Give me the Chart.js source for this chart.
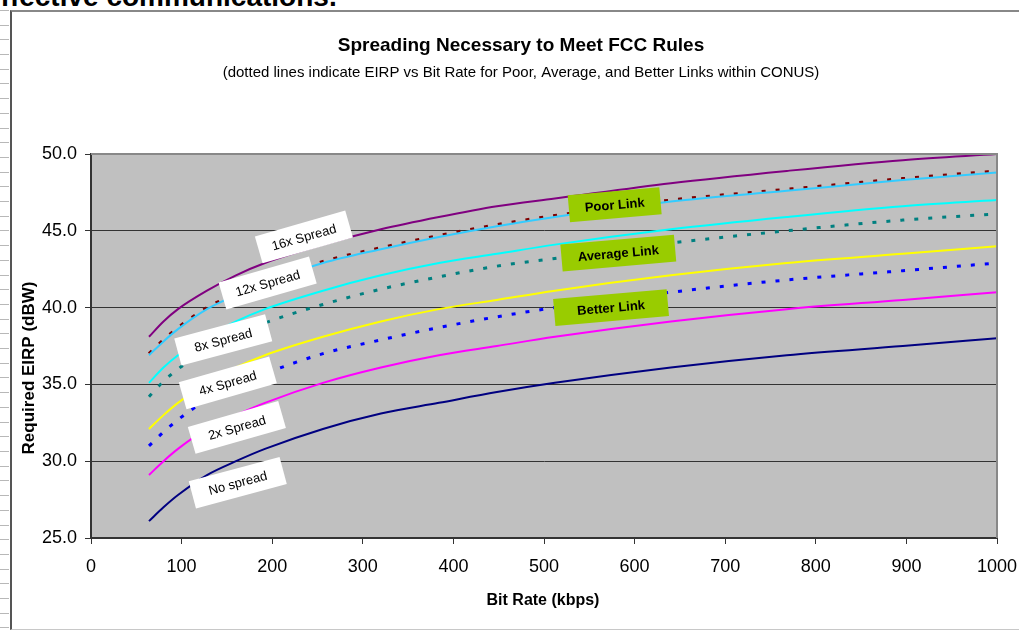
<!DOCTYPE html>
<html>
<head>
<meta charset="utf-8">
<title>Spreading Necessary to Meet FCC Rules</title>
<script src="https://cdn.jsdelivr.net/npm/chart.js@4.4.1/dist/chart.umd.min.js"></script>
<style>
  html, body { margin: 0; padding: 0; background: #fff; overflow: hidden; }
  #page { position: relative; width: 1019px; height: 631px; overflow: hidden; }
  #ruler {
    position: absolute; left: 0; top: 0; width: 9px; height: 631px;
    background: repeating-linear-gradient(to bottom, transparent 0, transparent 10px, #b8b8b8 10px, #b8b8b8 11px, transparent 11px, transparent 14.7px);
  }
  #frame {
    position: absolute; left: 10px; top: 10px; width: 1020px; height: 617px;
    border-left: 2px solid #555; border-top: 2px solid #888; border-bottom: 1px solid #c8c8c8;
  }
  #heading {
    position: absolute; left: -15px; top: -19px; line-height: 28px;
    font: bold 28px "Liberation Sans", Arial, sans-serif; white-space: nowrap; color: #000;
  }
  #chart { position: absolute; left: 0; top: 0; }
</style>
</head>
<body>
<div id="page">
  <div id="ruler"></div>
  <div id="frame"></div>
  <div id="heading">effective communications.</div>
  <canvas id="chart" width="1019" height="631"></canvas>
</div>
<script>
// Bit rates (kbps) sampled along the curves
const BIT_RATES = [64, 80, 96, 128, 160, 192, 256, 320, 384, 448, 512, 640, 768, 896, 1000];

// Required EIRP (dBW)
const SPREAD_16X = [38.1, 39.1, 39.9, 41.1, 42.1, 42.9, 44.1, 45.1, 45.9, 46.6, 47.1, 48.1, 48.9, 49.6, 50.0];
const POOR_LINK  = [37.0, 37.9, 38.7, 40.0, 40.9, 41.7, 43.0, 43.9, 44.7, 45.4, 46.0, 47.0, 47.7, 48.4, 48.9];
const SPREAD_12X = [36.9, 37.8, 38.6, 39.9, 40.8, 41.6, 42.9, 43.8, 44.6, 45.3, 45.9, 46.9, 47.6, 48.3, 48.8];
const SPREAD_8X  = [35.1, 36.1, 36.9, 38.1, 39.1, 39.9, 41.1, 42.1, 42.9, 43.5, 44.1, 45.1, 45.9, 46.6, 47.0];
const AVG_LINK   = [34.2, 35.2, 36.0, 37.2, 38.2, 39.0, 40.2, 41.2, 42.0, 42.7, 43.2, 44.2, 45.0, 45.7, 46.1];
const SPREAD_4X  = [32.1, 33.0, 33.8, 35.1, 36.1, 36.9, 38.1, 39.1, 39.9, 40.5, 41.1, 42.1, 42.9, 43.5, 44.0];
const BETTER_LINK= [31.0, 31.9, 32.7, 34.0, 34.9, 35.7, 37.0, 37.9, 38.7, 39.4, 40.0, 41.0, 41.8, 42.4, 42.9];
const SPREAD_2X  = [29.1, 30.0, 30.8, 32.1, 33.0, 33.8, 35.1, 36.1, 36.9, 37.5, 38.1, 39.1, 39.9, 40.5, 41.0];
const NO_SPREAD  = [26.1, 27.0, 27.8, 29.1, 30.0, 30.8, 32.1, 33.1, 33.8, 34.5, 35.1, 36.1, 36.9, 37.5, 38.0];

// White curve labels: text, bit rate, EIRP at box centre, angle (deg)
const SPREAD_LABELS = ["16x Spread", "12x Spread", "8x Spread", "4x Spread", "2x Spread", "No spread"];
const SPREAD_LABEL_X = [235, 195, 146, 151, 161, 162];
const SPREAD_LABEL_Y = [44.6, 41.6, 37.9, 35.1, 32.2, 28.6];
const SPREAD_LABEL_ANGLE = [-16, -16, -15, -16, -16, -15];

// Green link labels
const LINK_LABELS = ["Poor Link", "Average Link", "Better Link"];
const LINK_LABEL_X = [578, 582, 574];
const LINK_LABEL_Y = [46.7, 43.55, 40.0];

const FONT = '"Liberation Sans", Arial, sans-serif';

function series(label, values, color, dotted) {
  return {
    label: label,
    data: BIT_RATES.map((x, i) => ({ x: x, y: values[i] })),
    borderColor: color,
    borderWidth: dotted ? 3 : 2,
    borderDash: dotted ? [4, 10] : [],
    borderCapStyle: 'butt',
    pointRadius: 0,
    fill: false,
    cubicInterpolationMode: 'monotone'
  };
}

// ===== Plugins =====
const plotBackground = {
  id: 'plotBackground',
  beforeDraw(chart) {
    const { ctx, chartArea: a } = chart;
    ctx.save();
    ctx.fillStyle = '#c0c0c0';
    ctx.fillRect(a.left, a.top, a.right - a.left, a.bottom - a.top);
    ctx.restore();
  },
  afterDraw(chart) {
    const { ctx, chartArea: a } = chart;
    ctx.save();
    ctx.strokeStyle = '#888';
    ctx.lineWidth = 2;
    ctx.beginPath();
    ctx.moveTo(a.left, a.top);
    ctx.lineTo(a.right, a.top);
    ctx.lineTo(a.right, a.bottom);
    ctx.stroke();
    ctx.restore();
  }
};

const textLayer = {
  id: 'textLayer',
  afterDraw(chart) {
    const { ctx } = chart;
    ctx.save();
    ctx.fillStyle = '#000';
    ctx.textAlign = 'center';
    ctx.textBaseline = 'middle';
    ctx.font = 'bold 19px ' + FONT;
    ctx.fillText('Spreading Necessary to Meet FCC Rules', 521, 46);
    ctx.font = '15px ' + FONT;
    ctx.fillText('(dotted lines indicate EIRP vs Bit Rate for Poor, Average, and Better Links within CONUS)', 521, 73);
    ctx.font = 'bold 16px ' + FONT;
    ctx.fillText('Bit Rate (kbps)', 543, 601);
    ctx.translate(29, 368);
    ctx.rotate(-Math.PI / 2);
    ctx.font = 'bold 17px ' + FONT;
    ctx.fillText('Required EIRP (dBW)', 0, 0);
    ctx.restore();
  }
};

const curveLabels = {
  id: 'curveLabels',
  afterDatasetsDraw(chart) {
    const { ctx, scales } = chart;
    const drawBox = (text, xv, yv, angle, w, h, fill, font) => {
      const px = scales.x.getPixelForValue(xv);
      const py = scales.y.getPixelForValue(yv);
      ctx.save();
      ctx.translate(px, py);
      ctx.rotate(angle * Math.PI / 180);
      ctx.fillStyle = fill;
      ctx.fillRect(-w / 2, -h / 2, w, h);
      ctx.fillStyle = '#000';
      ctx.font = font;
      ctx.textAlign = 'center';
      ctx.textBaseline = 'middle';
      ctx.fillText(text, 0, 1);
      ctx.restore();
    };
    SPREAD_LABELS.forEach((t, i) => {
      drawBox(t, SPREAD_LABEL_X[i], SPREAD_LABEL_Y[i], SPREAD_LABEL_ANGLE[i], 94, 28, '#ffffff', '13px ' + FONT);
    });
    LINK_LABELS.forEach((t, i) => {
      drawBox(t, LINK_LABEL_X[i], LINK_LABEL_Y[i], -5, t.length > 10 ? 114 : 92, 27, '#99cc00', 'bold 13px ' + FONT);
    });
  }
};

// ===== Chart =====
new Chart(document.getElementById('chart').getContext('2d'), {
  type: 'line',
  data: {
    datasets: [
      series('No spread', NO_SPREAD, '#000080', false),
      series('2x Spread', SPREAD_2X, '#ff00ff', false),
      series('Better Link', BETTER_LINK, '#0000ff', true),
      series('4x Spread', SPREAD_4X, '#ffff00', false),
      series('Average Link', AVG_LINK, '#008080', true),
      series('8x Spread', SPREAD_8X, '#00ffff', false),
      series('12x Spread', SPREAD_12X, '#33ccff', false),
      series('Poor Link', POOR_LINK, '#800000', true),
      series('16x Spread', SPREAD_16X, '#800080', false)
    ]
  },
  options: {
    responsive: false,
    animation: false,
    layout: { padding: { top: 154, right: 22, bottom: 0, left: 0 } },
    plugins: {
      legend: { display: false },
      tooltip: { enabled: false },
      title: { display: false }
    },
    scales: {
      x: {
        type: 'linear',
        min: 0,
        max: 1000,
        afterFit(scale) { scale.height = 93; scale.paddingLeft = 0; scale.paddingRight = 0; },
        ticks: { stepSize: 100, color: '#000', font: { family: FONT, size: 18 }, padding: 12, maxRotation: 0, callback: v => String(v) },
        grid: { drawOnChartArea: false, drawTicks: true, tickLength: 6, color: '#333' },
        border: { display: true, color: '#333', width: 2 }
      },
      y: {
        type: 'linear',
        min: 25,
        max: 50,
        afterFit(scale) { scale.width = 91; scale.paddingTop = 0; scale.paddingBottom = 0; },
        ticks: { stepSize: 5, color: '#000', font: { family: FONT, size: 18 }, padding: 8, callback: v => v.toFixed(1) },
        grid: { drawOnChartArea: true, drawTicks: true, tickLength: 6, color: '#333', lineWidth: 1 },
        border: { display: true, color: '#333', width: 2 }
      }
    }
  },
  plugins: [plotBackground, curveLabels, textLayer]
});
</script>
</body>
</html>
